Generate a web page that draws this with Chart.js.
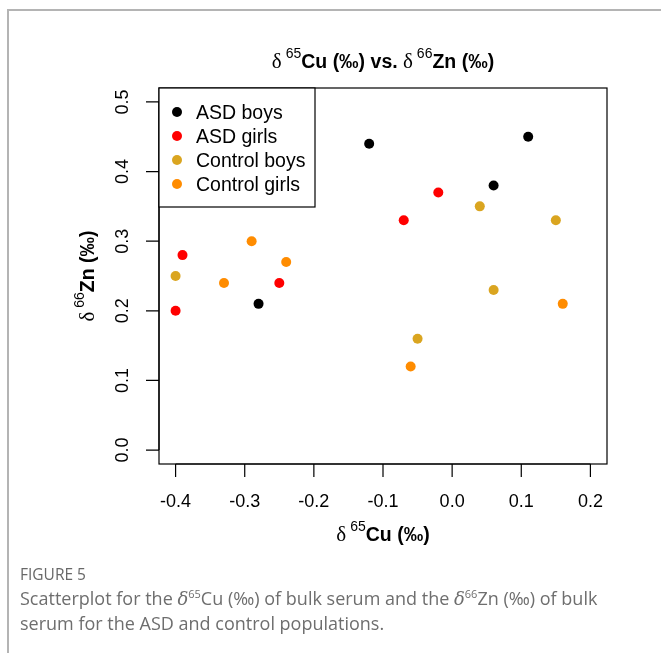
<!DOCTYPE html>
<html>
<head>
<meta charset="utf-8">
<script src="https://cdn.jsdelivr.net/npm/chart.js@4.4.1/dist/chart.umd.min.js"></script>
<style>
body{margin:0;background:#fff;width:661px;height:655px;overflow:hidden;position:relative}
#card{position:absolute;left:7px;top:9px;width:660px;height:642px;border-top:2px solid #b4b4b4;border-left:2px solid #b4b4b4}
#wrap{position:absolute;left:0;top:0;width:661px;height:655px}
#cap{position:absolute;left:20px;top:562px;width:625px;color:#6e6e6e;font-family:"Open Sans",sans-serif}
#cap .fig{font-size:15.5px;line-height:24px;color:#686868}
#cap .txt{font-size:18px;line-height:24px}
#cap i{font-family:"DejaVu Serif",serif}
#cap sup{font-size:11px;line-height:0}
</style>
</head>
<body>
<div id="card"></div>
<div id="wrap"><canvas id="chartCuZn" width="661" height="655"></canvas></div>
<div id="cap">
<div class="fig">FIGURE 5</div>
<div class="txt">Scatterplot for the <i>δ</i><sup>65</sup>Cu (‰) of bulk serum and the <i>δ</i><sup>66</sup>Zn (‰) of bulk<br>serum for the ASD and control populations.</div>
</div>
<script>
// values
const seriesNames=['ASD boys','ASD girls','Control boys','Control girls']
const seriesColors=['#000000','#FF0000','#DAA520','#FF8C00']
const asdBoysCu=[-0.12,0.11,0.06,-0.28]
const asdBoysZn=[0.44,0.45,0.38,0.21]
const asdGirlsCu=[-0.02,-0.07,-0.39,-0.25,-0.40]
const asdGirlsZn=[0.37,0.33,0.28,0.24,0.20]
const ctrlBoysCu=[0.04,0.15,-0.40,0.06,-0.05]
const ctrlBoysZn=[0.35,0.33,0.25,0.23,0.16]
const ctrlGirlsCu=[-0.29,-0.24,-0.33,0.16,-0.06]
const ctrlGirlsZn=[0.30,0.27,0.24,0.21,0.12]
const xTicks=[-0.4,-0.3,-0.2,-0.1,0.0,0.1,0.2]
const yTicks=[0.0,0.1,0.2,0.3,0.4,0.5]
const xLim=[-0.4,0.2]
const yLim=[0,0.5]

function pts(xs,ys){return xs.map((x,i)=>({x:x,y:ys[i]}))}
// R style 4% axis extension
function ext(l){const d=(l[1]-l[0])*0.04;return [l[0]-d,l[1]+d]}

const SANS='"Liberation Sans", Arial, sans-serif'
const SERIF='"Liberation Serif", serif'

function drawRich(ctx,parts,x,y){
  let w=0
  parts.forEach(p=>{ctx.font=p.f;w+=ctx.measureText(p.t).width})
  let cx=x-w/2
  ctx.textAlign='left'
  ctx.textBaseline='alphabetic'
  parts.forEach(p=>{ctx.font=p.f;ctx.fillText(p.t,cx,y+(p.dy||0));cx+=ctx.measureText(p.t).width})
}

function deltaLabel(iso,rest){
  return [
    {t:'δ',f:'21px '+SERIF},
    {t:' '+iso,f:'14px '+SANS,dy:-10},
    {t:rest,f:'bold 19.5px '+SANS}
  ]
}

const rAxesPlugin={
  id:'rAxes',
  afterDraw(chart){
    const ctx=chart.ctx, a=chart.chartArea, xs=chart.scales.x, ys=chart.scales.y
    ctx.save()
    ctx.strokeStyle='#000'
    ctx.fillStyle='#000'
    ctx.lineWidth=1.2
    ctx.strokeRect(a.left,a.top,a.right-a.left,a.bottom-a.top)
    // x axis
    ctx.beginPath()
    ctx.moveTo(xs.getPixelForValue(xTicks[0]),a.bottom)
    ctx.lineTo(xs.getPixelForValue(xTicks[xTicks.length-1]),a.bottom)
    xTicks.forEach(v=>{const px=xs.getPixelForValue(v);ctx.moveTo(px,a.bottom);ctx.lineTo(px,a.bottom+13)})
    ctx.stroke()
    ctx.font='18px '+SANS
    ctx.textAlign='center'
    ctx.textBaseline='alphabetic'
    xTicks.forEach(v=>ctx.fillText(v.toFixed(1),xs.getPixelForValue(v),507))
    // y axis
    ctx.beginPath()
    ctx.moveTo(a.left,ys.getPixelForValue(yTicks[0]))
    ctx.lineTo(a.left,ys.getPixelForValue(yTicks[yTicks.length-1]))
    yTicks.forEach(v=>{const py=ys.getPixelForValue(v);ctx.moveTo(a.left,py);ctx.lineTo(a.left-13,py)})
    ctx.stroke()
    yTicks.forEach(v=>{
      ctx.save()
      ctx.translate(128,ys.getPixelForValue(v))
      ctx.rotate(-Math.PI/2)
      ctx.font='18px '+SANS
      ctx.textAlign='center'
      ctx.fillText(v.toFixed(1),0,0)
      ctx.restore()
    })
    // titles
    const mx=(a.left+a.right)/2, my=(a.top+a.bottom)/2
    drawRich(ctx,deltaLabel('65','Cu (‰) vs. ').concat(deltaLabel('66','Zn (‰)')),mx,68)
    drawRich(ctx,deltaLabel('65','Cu (‰)'),mx,541)
    ctx.save()
    ctx.translate(94,my)
    ctx.rotate(-Math.PI/2)
    drawRich(ctx,deltaLabel('66','Zn (‰)'),0,0)
    ctx.restore()
    // legend, top-left inside the box
    const lw=156, lh=119
    ctx.fillStyle='#fff'
    ctx.fillRect(a.left,a.top,lw,lh)
    ctx.strokeRect(a.left,a.top,lw,lh)
    chart.data.datasets.forEach((ds,i)=>{
      const cy=a.top+24+i*24
      ctx.fillStyle=ds.backgroundColor
      ctx.beginPath()
      ctx.arc(a.left+18,cy,5,0,Math.PI*2)
      ctx.fill()
      ctx.fillStyle='#000'
      ctx.font='19.5px '+SANS
      ctx.textAlign='left'
      ctx.fillText(ds.label,a.left+37,cy+7)
    })
    ctx.restore()
  }
}

const xr=ext(xLim), yr=ext(yLim)
const cuZnChart=new Chart(document.getElementById('chartCuZn'),{
  type:'scatter',
  data:{
    datasets:[
      {label:seriesNames[0],data:pts(asdBoysCu,asdBoysZn),backgroundColor:seriesColors[0]},
      {label:seriesNames[1],data:pts(asdGirlsCu,asdGirlsZn),backgroundColor:seriesColors[1]},
      {label:seriesNames[2],data:pts(ctrlBoysCu,ctrlBoysZn),backgroundColor:seriesColors[2]},
      {label:seriesNames[3],data:pts(ctrlGirlsCu,ctrlGirlsZn),backgroundColor:seriesColors[3]}
    ]
  },
  options:{
    responsive:false,
    animation:false,
    devicePixelRatio:1,
    layout:{padding:{left:159,top:88,right:54,bottom:191}},
    elements:{point:{radius:5,borderWidth:0,hoverRadius:5}},
    scales:{
      x:{type:'linear',min:xr[0],max:xr[1],display:false},
      y:{type:'linear',min:yr[0],max:yr[1],display:false}
    },
    plugins:{legend:{display:false},title:{display:false},tooltip:{enabled:false}}
  },
  plugins:[rAxesPlugin]
})
</script>
</body>
</html>
